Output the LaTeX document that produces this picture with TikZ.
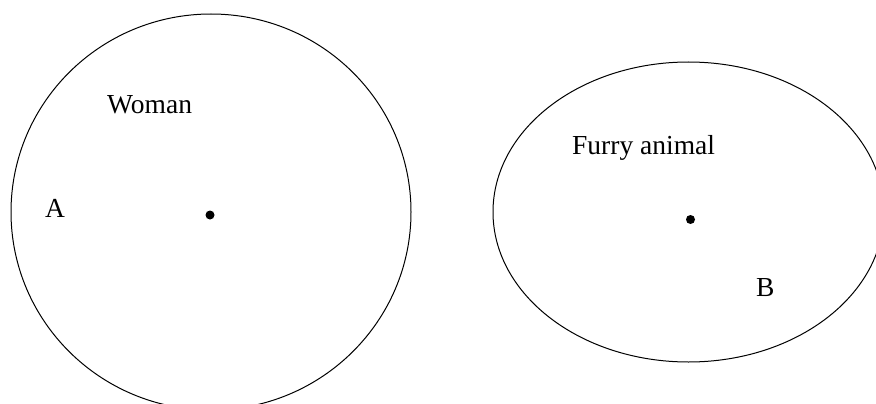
\documentclass[tikz,border=0pt]{standalone}
\usepackage{fontspec}
\setmainfont{Liberation Serif}
\begin{document}
\begin{tikzpicture}[x=1pt,y=-1pt,
  lbl/.style={anchor=base west,inner sep=0pt,font=\fontsize{27.5}{30}\selectfont},
  outline/.style={draw=black,line width=1pt},
  centre/.style={fill=black}]
\useasboundingbox (0,0) rectangle (876,404);
\begin{scope}
\clip (0,0) rectangle (876,404);
\draw[outline] (211,212) ellipse [x radius=200pt, y radius=198pt];
\draw[outline] (688.5,212) ellipse [x radius=195.5pt, y radius=150pt];
\end{scope}
\fill[centre] (210,215) circle [radius=4.5pt];
\fill[centre] (690.5,219.5) circle [radius=4.5pt];
\node[lbl] (woman) at (107,113.3) {Woman};
\node[lbl] (a) at (45,217) {A};
\node[lbl] (furry) at (572,154) {Furry animal};
\node[lbl] (b) at (756,296) {B};
\end{tikzpicture}
\end{document}
